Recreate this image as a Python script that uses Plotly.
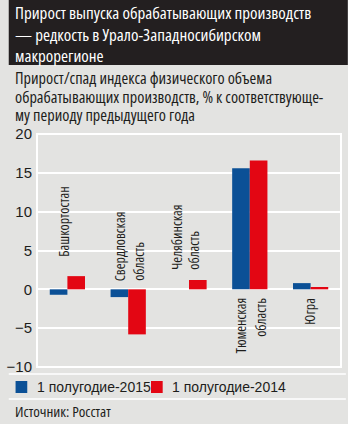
import plotly.graph_objects as go

categories = ["Башкортостан", "Свердловская область", "Челябинская область", "Тюменская область", "Югра"]
series_2015 = [-0.7, -1.0, 0.0, 15.6, 0.8]
series_2014 = [1.7, -5.8, 1.2, 16.6, 0.3]
series_names = ["1 полугодие-2015", "1 полугодие-2014"]
series_colors = ["#0b5096", "#e30613"]
label_lines = [["Башкортостан"], ["Свердловская", "область"], ["Челябинская", "область"],
               ["Тюменская", "область"], ["Югра"]]
y_ticks = [-10, -5, 0, 5, 10, 15, 20]
title_lines = ["Прирост выпуска обрабатывающих производств",
               "— редкость в Урало-Западносибирском",
               "макрорегионе"]
subtitle_lines = ["Прирост/спад индекса физического объема",
                  "обрабатывающих производств, % к соответствующе-",
                  "му периоду предыдущего года"]
source_text = "Источник: Росстат"

# layout-only settings
label_anchor_y = [4.0, 0.8, 2.2, -0.8, -0.8]
label_xshift = [[-4], [-9, 10], [-12, 5], [-9, 10], [-2]]

W, H = 348, 424
L, R, T, B = 29, 341, 134, 367
BG = "#e3e3e1"
TXT = "#1d1d1b"
COND = "Open Sans"

def px_x(px):
    return (px - L) / (R - L)

def px_y(py):
    return (B - py) / (B - T)

def cond(s, pct):
    return f'<span style="font-stretch:{pct}%">{s}</span>'

fig = go.Figure()
for vals, nm, col in zip([series_2015, series_2014], series_names, series_colors):
    fig.add_trace(go.Bar(x=categories, y=vals, name=nm, marker_color=col, marker_line_width=0,
                         showlegend=False))

annotations = []
for c, lines, yv, shifts in zip(categories, label_lines, label_anchor_y, label_xshift):
    for ln, sh in zip(lines, shifts):
        annotations.append(dict(x=c, y=yv, xref="x", yref="y", text=cond(ln, 75), textangle=-90,
                                showarrow=False, xshift=sh, xanchor="center",
                                yanchor="bottom" if yv >= 0 else "top",
                                font=dict(family=COND, size=14, color=TXT)))

for i, ln in enumerate(title_lines):
    annotations.append(dict(x=px_x(4), y=px_y(13 + 21 * i), xref="paper", yref="paper", xanchor="left",
                            yanchor="middle", showarrow=False, text=cond(ln, 75),
                            font=dict(family=COND, size=17, color="white")))
for i, ln in enumerate(subtitle_lines):
    annotations.append(dict(x=px_x(4), y=px_y(78 + 18.5 * i), xref="paper", yref="paper", xanchor="left",
                            yanchor="middle", showarrow=False, text=cond(ln, 75),
                            font=dict(family=COND, size=16.3, color=TXT)))
annotations.append(dict(x=px_x(4), y=px_y(411), xref="paper", yref="paper", xanchor="left", yanchor="middle",
                        showarrow=False, text=cond(source_text, 87.5),
                        font=dict(family=COND, size=15, color=TXT)))

shapes = [
    dict(type="rect", xref="paper", yref="paper", x0=px_x(0), x1=px_x(W), y0=px_y(65), y1=px_y(0),
         fillcolor="#231f20", line_width=0, layer="below"),
    dict(type="rect", xref="paper", yref="paper", x0=0, x1=1, y0=0, y1=1,
         line=dict(color="white", width=2), fillcolor="rgba(0,0,0,0)"),
    dict(type="line", xref="paper", yref="paper", x0=px_x(0), x1=px_x(346), y0=px_y(374), y1=px_y(374),
         line=dict(color="white", width=1.5)),
    dict(type="line", xref="paper", yref="paper", x0=px_x(0), x1=px_x(346), y0=px_y(399), y1=px_y(399),
         line=dict(color="white", width=1.5)),
]

# legend (drawn manually to match the reference spacing)
legend_x = [7, 146]
for nm, col, lx in zip(series_names, series_colors, legend_x):
    shapes.append(dict(type="rect", xref="paper", yref="paper", x0=px_x(lx), x1=px_x(lx + 12),
                       y0=px_y(393), y1=px_y(381), fillcolor=col, line_width=0))
    annotations.append(dict(x=px_x(lx + 20), y=px_y(387), xref="paper", yref="paper", xanchor="left",
                            yanchor="middle", showarrow=False, text=nm,
                            font=dict(family="Liberation Sans", size=14, color=TXT)))

fig.update_layout(
    width=W, height=H,
    margin=dict(l=L, r=W - R, t=T, b=H - B, pad=0),
    paper_bgcolor=BG, plot_bgcolor=BG,
    barmode="group", bargap=0.42, bargroupgap=0,
    showlegend=False,
    xaxis=dict(showticklabels=False, showgrid=False, zeroline=False, showline=False, ticks=""),
    yaxis=dict(range=[-10, 20], tickvals=y_ticks, showgrid=True, gridcolor="white", gridwidth=1.5,
               zeroline=False, showline=False, ticks="", ticklabelstandoff=4,
               tickfont=dict(family="Liberation Sans", size=15, color=TXT)),
    annotations=annotations, shapes=shapes,
)

fig.write_html("out.html")
